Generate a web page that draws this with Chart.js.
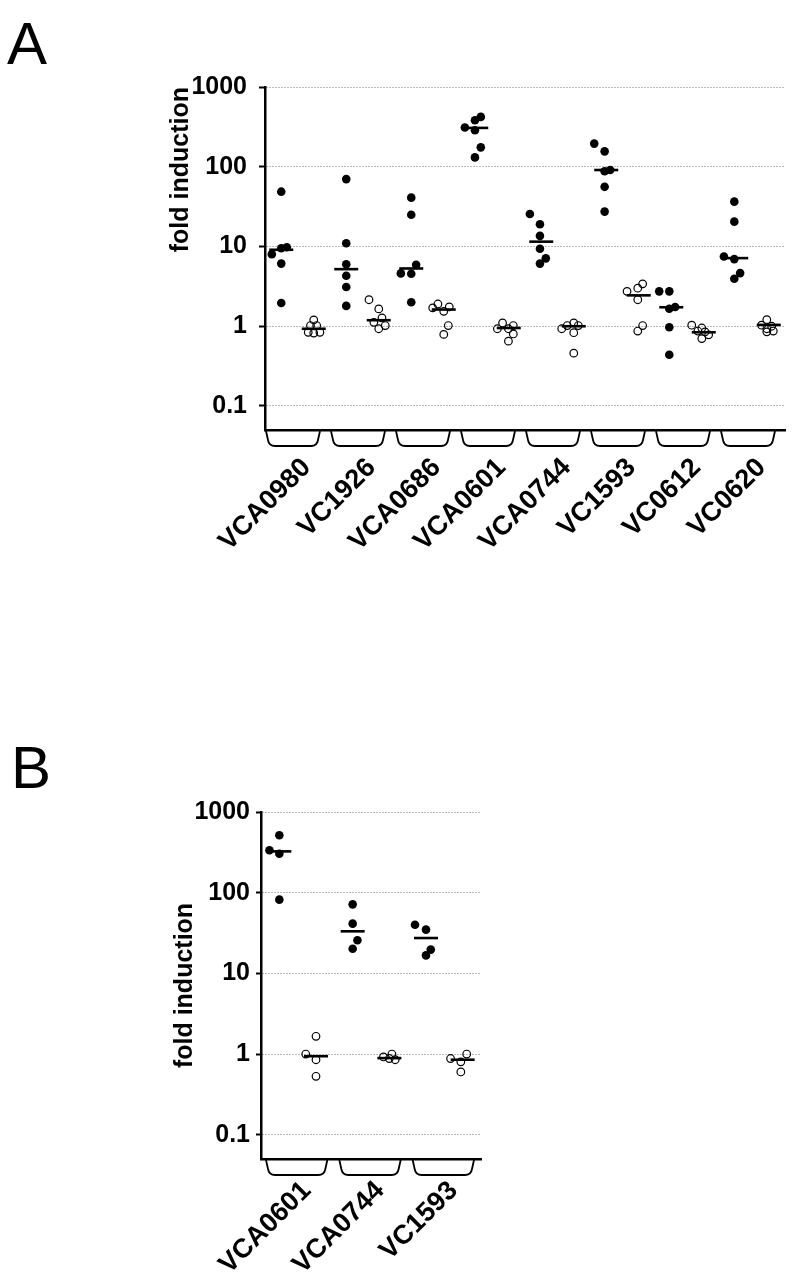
<!DOCTYPE html>
<html><head><meta charset="utf-8">
<script src="https://cdn.jsdelivr.net/npm/chart.js@4.4.1/dist/chart.umd.min.js"></script>
<style>
body{margin:0;background:#fff;width:800px;height:1274px;position:relative;overflow:hidden;font-family:"Liberation Sans",Arial,sans-serif}
canvas{position:absolute;left:0}
.panel{position:absolute;font-size:60px;line-height:1;color:#000}
</style></head><body>
<div class="panel" style="left:7px;top:14px">A</div>
<div class="panel" style="left:11px;top:738px">B</div>
<canvas id="chartA" width="800" height="640" style="top:0"></canvas>
<canvas id="chartB" width="800" height="574" style="top:700px"></canvas>
<script>
// y axis ticks (log scale)
const yTickValues = [0.1, 1, 10, 100, 1000];
const yTickLabels = ['0.1', '1', '10', '100', '1000'];

// panel A
const genesA = ['VCA0980', 'VC1926', 'VCA0686', 'VCA0601', 'VCA0744', 'VC1593', 'VC0612', 'VC0620'];
const filledA = [
    [48.7, 9.8, 9.5, 8.0, 6.1, 1.96],
    [70, 11, 6.0, 4.3, 3.1, 1.8],
    [41, 25, 5.9, 4.6, 4.55, 2.0],
    [422, 383, 310, 287, 175, 131],
    [25.6, 19, 13.6, 9.35, 7.1, 6.1],
    [195, 156, 91, 88, 56, 27.4],
    [2.74, 2.74, 1.74, 1.66, 0.97, 0.44],
    [36.5, 20.5, 7.5, 6.95, 4.64, 3.94]
];
// horizontal jitter of each point, in half-group units
const filledAJitter = [
    [0, 0.17, 0, -0.29, 0, 0],
    [0, 0, 0, 0, 0, 0],
    [0, 0, 0.15, -0.32, 0, 0],
    [0.14, -0.04, -0.35, -0.04, 0.14, -0.04],
    [-0.35, -0.04, -0.04, -0.04, 0.14, -0.04],
    [-0.37, -0.05, 0.12, -0.05, -0.05, -0.05],
    [-0.37, -0.06, 0.12, -0.06, -0.06, -0.06],
    [-0.06, -0.06, -0.38, -0.06, 0.12, -0.06]
];
const openA = [
    [1.2, 1.02, 1.02, 0.84, 0.82, 0.84],
    [2.15, 1.65, 1.27, 1.12, 1.02, 0.93],
    [1.9, 1.75, 1.7, 1.54, 1.02, 0.79],
    [1.1, 0.93, 0.93, 1.02, 0.8, 0.65],
    [0.93, 1.02, 1.1, 1.02, 0.83, 0.46],
    [3.4, 3.0, 2.74, 2.15, 1.02, 0.87],
    [1.03, 0.95, 0.87, 0.85, 0.78, 0.70],
    [1.21, 1.03, 1.0, 0.93, 0.87, 0.85]
];
const openAJitter = [
    [0, -0.1, 0.09, -0.17, 0, 0.19],
    [-0.3, 0, 0.1, -0.15, 0.2, 0],
    [-0.18, 0.17, -0.34, 0, 0.14, 0],
    [-0.19, -0.35, -0.01, 0.14, 0.14, -0.01],
    [-0.37, -0.2, 0, 0.14, 0, 0],
    [0.12, -0.03, -0.36, -0.03, 0.12, -0.03],
    [-0.37, -0.06, -0.18, 0.04, 0.15, -0.06],
    [-0.06, -0.22, 0.09, -0.06, 0.14, -0.06]
];
const medianFilledA = [9.1, 5.2, 5.3, 307, 11.5, 91, 1.73, 7.15];
const medianOpenA = [0.93, 1.19, 1.62, 0.95, 1.0, 2.44, 0.84, 1.04];

// panel B
const genesB = ['VCA0601', 'VCA0744', 'VC1593'];
const filledB = [
    [514, 335, 304, 82],
    [71.7, 41.3, 25.7, 20.2],
    [40.1, 34.8, 19.7, 16.7]
];
const filledBJitter = [
    [0, -0.27, 0, 0],
    [0, 0, 0.13, 0],
    [-0.3, 0, 0.13, 0]
];
const openB = [
    [1.66, 1.0, 0.85, 0.53],
    [1.0, 0.92, 0.88, 0.85],
    [1.0, 0.88, 0.8, 0.6]
];
const openBJitter = [
    [0, -0.28, 0, 0],
    [0.07, -0.16, 0, 0.16],
    [0.11, -0.33, -0.05, -0.05]
];
const medianFilledB = [325, 33.2, 27.4];
const medianOpenB = [0.94, 0.89, 0.85];

const FONT = '"Liberation Sans", Arial, sans-serif';

// little trays drawn under the x axis, one per gene
const bracketPlugin = {
    id: 'brackets',
    afterDraw(chart, args, opts) {
        const ctx = chart.ctx, x = chart.scales.x;
        const top = chart.chartArea.bottom + 1, bot = top + opts.depth;
        ctx.save();
        ctx.strokeStyle = '#000';
        ctx.lineWidth = 1.8;
        for (let i = 0; i < opts.count; i++) {
            const l = x.getPixelForValue(2 * i) + opts.start;
            const r = x.getPixelForValue(2 * i + 2) - opts.end;
            ctx.beginPath();
            ctx.moveTo(l, top);
            ctx.lineTo(l + 2, bot - 6);
            ctx.quadraticCurveTo(l + 3, bot, l + 9, bot);
            ctx.lineTo(r - 9, bot);
            ctx.quadraticCurveTo(r - 3, bot, r - 2, bot - 6);
            ctx.lineTo(r, top);
            ctx.stroke();
        }
        ctx.restore();
    }
};

function makeChart(id, genes, filled, filledJit, open, openJit, medF, medO, lay) {
    let fillPts = [], openPts = [], medPts = [];
    genes.map((g, i) => {
        filled[i].map((v, j) => fillPts.push({x: 2 * i + 0.5 + filledJit[i][j], y: v}));
        open[i].map((v, j) => openPts.push({x: 2 * i + 1.5 + openJit[i][j], y: v}));
        medPts.push({x: 2 * i + 0.5, y: medF[i]}, {x: 2 * i + 1.5, y: medO[i]});
    });

    new Chart(document.getElementById(id), {
        type: 'scatter',
        data: {
            datasets: [
                {data: fillPts, pointRadius: 4.3, backgroundColor: '#000', borderColor: '#000', borderWidth: 0},
                {data: openPts, pointRadius: 3.8, backgroundColor: 'rgba(255,255,255,0)', borderColor: '#000', borderWidth: 1.2},
                {data: medPts, pointStyle: 'line', pointRadius: 12, borderColor: '#000', borderWidth: 2.6}
            ]
        },
        options: {
            responsive: false,
            animation: false,
            events: [],
            layout: {padding: {left: 160, top: lay.top, right: lay.right, bottom: 0}},
            plugins: {
                legend: {display: false},
                tooltip: {enabled: false},
                brackets: {count: genes.length, start: lay.bStart, end: lay.bEnd, depth: 15}
            },
            scales: {
                x: {
                    type: 'linear', min: 0, max: 2 * genes.length,
                    grid: {display: false},
                    border: {display: true, color: '#000', width: 2.5},
                    afterBuildTicks: (axis) => { axis.ticks = genes.map((g, i) => ({value: 2 * i + 1 + lay.labelShift})); },
                    afterFit: (s) => { s.height = lay.xHeight; },
                    ticks: {
                        autoSkip: false, minRotation: 45, maxRotation: 45, padding: lay.labelPad,
                        color: '#000', font: {family: FONT, size: 27, weight: 'bold'},
                        callback: (v) => genes[Math.floor(v / 2)]
                    }
                },
                y: {
                    type: 'logarithmic', min: 0.05, max: 1000,
                    afterBuildTicks: (axis) => { axis.ticks = yTickValues.map((v) => ({value: v})); },
                    afterFit: (s) => { s.width = lay.yWidth; },
                    grid: {color: '#777', lineWidth: 1, drawTicks: true, tickLength: lay.tickLen, tickColor: '#000', tickWidth: 2},
                    border: {display: true, color: '#000', width: 2.5, dash: [1, 2]},
                    ticks: {
                        padding: lay.tickPad, color: '#000', font: {family: FONT, size: 25, weight: 'bold'},
                        callback: (v) => yTickLabels[yTickValues.indexOf(v)]
                    },
                    title: {
                        display: true, text: 'fold induction', align: lay.titleAlign,
                        color: '#000', font: {family: FONT, size: 25, weight: 'bold'},
                        padding: {top: lay.titlePad, bottom: 0}
                    }
                }
            }
        },
        plugins: [bracketPlugin]
    });
}

makeChart('chartA', genesA, filledA, filledAJitter, openA, openAJitter, medianFilledA, medianOpenA,
    {top: 87, right: 15, xHeight: 210, yWidth: 105, tickLen: 6, tickPad: 12, titlePad: 6, titleAlign: 'end',
     labelShift: 0.28, labelPad: 14, bStart: 1, bEnd: 10});
makeChart('chartB', genesB, filledB, filledBJitter, openB, openBJitter, medianFilledB, medianOpenB,
    {top: 112, right: 319, xHeight: 115, yWidth: 101, tickLen: 5, tickPad: 6, titlePad: 10, titleAlign: 'center',
     labelShift: 0.25, labelPad: 8, bStart: 5, bEnd: 7});
</script>
</body></html>
